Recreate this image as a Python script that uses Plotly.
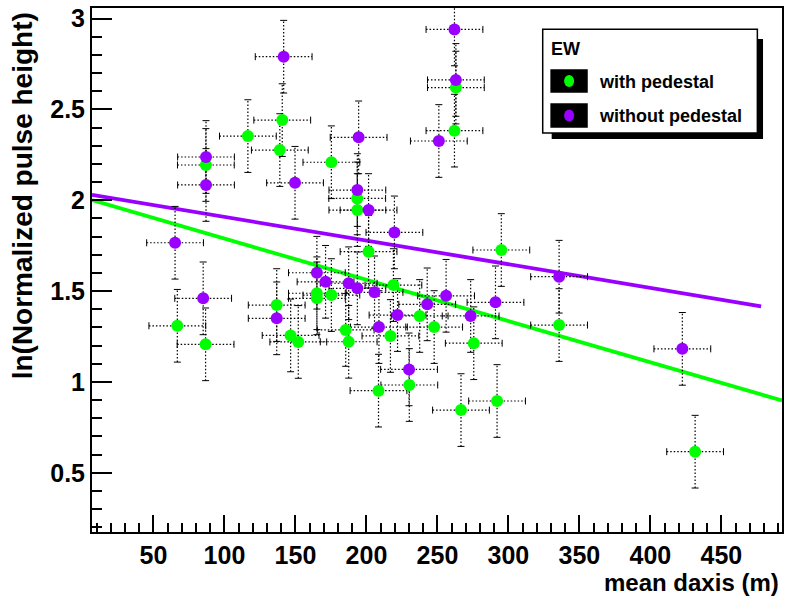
import plotly.graph_objects as go

# ---------------- data ----------------
# with pedestal (green)
green_x = [66.8, 86.7, 86.9, 116.5, 139.0, 140.7, 175.3, 136.8, 146.6, 152.0,
           165.1, 165.1, 175.3, 193.5, 193.6, 201.5, 219.0, 185.4, 187.5, 216.9,
           237.5, 247.7, 275.6, 208.5, 230.2, 266.6, 292.0, 295.0, 335.7, 431.5,
           262.0, 263.0]
green_y = [1.309, 1.207, 2.194, 2.353, 2.276, 2.441, 2.209, 1.423, 1.256, 1.220,
           1.488, 1.460, 1.478, 2.010, 1.946, 1.717, 1.533, 1.286, 1.221, 1.253,
           1.363, 1.302, 1.213, 0.952, 0.983, 0.845, 0.895, 1.726, 1.313, 0.616,
           2.383, 2.620]

# without pedestal (purple)
purple_x = [65.2, 85.0, 87.0, 87.0, 141.7, 149.7, 136.8, 165.1, 171.2, 194.5,
            193.6, 201.5, 219.7, 187.5, 193.6, 205.7, 242.8, 256.1, 290.9, 273.4,
            221.9, 208.8, 230.0, 262.0, 263.0, 251.0, 335.7, 422.5]
purple_y = [1.766, 1.460, 2.238, 2.084, 2.790, 2.096, 1.350, 1.601, 1.551, 2.346,
            2.056, 1.946, 1.823, 1.543, 1.515, 1.493, 1.427, 1.474, 1.438, 1.363,
            1.368, 1.302, 1.069, 2.940, 2.662, 2.326, 1.579, 1.182]

x_err = 20.0
y_err = 0.2

# linear fits: intercept, slope, x range
green_fit = dict(p0=2.016, p1=-0.00227, xmin=6.7, xmax=492.7)
purple_fit = dict(p0=2.0385, p1=-0.001302, xmin=6.7, xmax=478.0)

GREEN = "#00ff00"
PURPLE = "#9900ff"
FONT = "Liberation Sans, Arial, Helvetica, sans-serif"


def err_segments(xs, ys):
    sx, sy = [], []
    for x, y in zip(xs, ys):
        sx += [x - x_err, x + x_err, None, x, x, None]
        sy += [y, y, None, y - y_err, y + y_err, None]
    return sx, sy


fig = go.Figure()

# fit lines
for fit, col in ((purple_fit, PURPLE), (green_fit, GREEN)):
    xs = [fit["xmin"], fit["xmax"]]
    ys = [fit["p0"] + fit["p1"] * v for v in xs]
    fig.add_trace(go.Scatter(x=xs, y=ys, mode="lines",
                             line=dict(color=col, width=3.8),
                             hoverinfo="skip", showlegend=False))

# error bars (dotted) and caps
for xs, ys in ((green_x, green_y), (purple_x, purple_y)):
    sx, sy = err_segments(xs, ys)
    fig.add_trace(go.Scatter(x=sx, y=sy, mode="lines",
                             line=dict(color="black", width=1.2, dash="1.5px,2px"),
                             hoverinfo="skip", showlegend=False))
    fig.add_trace(go.Scatter(
        x=[x - x_err for x in xs] + [x + x_err for x in xs],
        y=list(ys) + list(ys), mode="markers",
        marker=dict(symbol="line-ns", size=5, line=dict(color="black", width=1)),
        hoverinfo="skip", showlegend=False))
    fig.add_trace(go.Scatter(
        x=list(xs) + list(xs),
        y=[y - y_err for y in ys] + [y + y_err for y in ys], mode="markers",
        marker=dict(symbol="line-ew", size=5, line=dict(color="black", width=1)),
        hoverinfo="skip", showlegend=False))

# markers
fig.add_trace(go.Scatter(x=green_x, y=green_y, mode="markers", name="with pedestal",
                         marker=dict(color=GREEN, size=12, line=dict(width=0)),
                         showlegend=False))
fig.add_trace(go.Scatter(x=purple_x, y=purple_y, mode="markers", name="without pedestal",
                         marker=dict(color=PURPLE, size=12, line=dict(width=0)),
                         showlegend=False))

axis_common = dict(showgrid=False, zeroline=False, showline=True, linecolor="black",
                   linewidth=2, mirror=True, ticks="inside", tickcolor="black",
                   tickwidth=1.5,
                   tickfont=dict(family=FONT, size=25, color="black", weight="bold"))

fig.update_xaxes(range=[6.7, 492.7], dtick=50, tick0=0, ticklen=17,
                 minor=dict(dtick=10, ticks="inside", ticklen=9, tickcolor="black",
                            tickwidth=1.5),
                 **axis_common)
fig.update_yaxes(range=[0.174, 3.058], dtick=0.5, tick0=0, ticklen=20,
                 minor=dict(dtick=0.1, ticks="inside", ticklen=10, tickcolor="black",
                            tickwidth=1.5),
                 **axis_common)

# legend drawn as shapes + text
shapes = [
    dict(type="rect", xref="paper", yref="paper", x0=0.6662, x1=0.9725, y0=0.75, y1=0.9408,
         fillcolor="black", line=dict(width=0)),
    dict(type="rect", xref="paper", yref="paper", x0=0.6532, x1=0.9643, y0=0.7615, y1=0.9594,
         fillcolor="white", line=dict(color="black", width=1.5)),
    dict(type="rect", xref="paper", yref="paper", x0=0.6643, x1=0.7185, y0=0.8384, y1=0.8830,
         fillcolor="black", line=dict(width=0)),
    dict(type="rect", xref="paper", yref="paper", x0=0.6643, x1=0.7185, y0=0.7716, y1=0.8181,
         fillcolor="black", line=dict(width=0)),
    dict(type="circle", xref="paper", yref="paper", x0=0.6842, x1=0.6987, y0=0.8492, y1=0.8721,
         fillcolor=GREEN, line=dict(width=0)),
    dict(type="circle", xref="paper", yref="paper", x0=0.6842, x1=0.6987, y0=0.7834, y1=0.8063,
         fillcolor=PURPLE, line=dict(width=0)),
]

annotations = [
    dict(text="EW", xref="paper", yref="paper", x=0.6618, y=0.9218, xanchor="left",
         yanchor="middle", showarrow=False,
         font=dict(family=FONT, size=18, color="black", weight="bold")),
    dict(text="with pedestal", xref="paper", yref="paper", x=0.7316, y=0.8594,
         xanchor="left", yanchor="middle", showarrow=False,
         font=dict(family=FONT, size=18, color="black", weight="bold")),
    dict(text="without pedestal", xref="paper", yref="paper", x=0.7316, y=0.7945,
         xanchor="left", yanchor="middle", showarrow=False,
         font=dict(family=FONT, size=18, color="black", weight="bold")),
    dict(text="mean daxis (m)", xref="paper", yref="paper", x=0.9986, y=-0.0973,
         xanchor="right", yanchor="middle", showarrow=False,
         font=dict(family=FONT, size=24, color="black", weight="bold")),
    dict(text="ln(Normalized pulse height)", xref="paper", yref="paper", x=-0.1004, y=0.996,
         xanchor="center", yanchor="top", textangle=-90, showarrow=False,
         font=dict(family=FONT, size=28, color="black", weight="bold")),
]

fig.update_layout(width=786, height=598, margin=dict(l=92, r=2, t=8, b=66),
                  paper_bgcolor="white", plot_bgcolor="white",
                  shapes=shapes, annotations=annotations, showlegend=False)

fig.write_html("out.html")
